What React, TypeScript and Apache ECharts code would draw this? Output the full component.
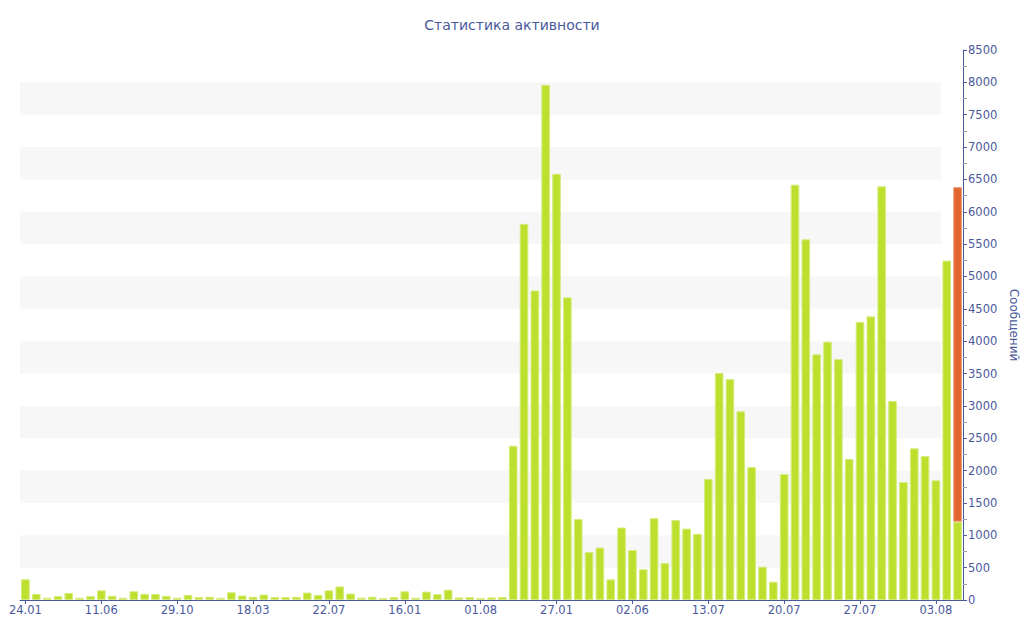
import React, { useEffect, useRef } from "react";
import * as echarts from "echarts";

const categories = [
  "24.01", "12.02", "03.03", "23.03", "12.04", "02.05", "22.05",
  "11.06", "30.06", "11.07", "06.08", "30.08", "19.09", "09.10",
  "29.10", "18.11", "08.12", "28.12", "17.01", "06.02", "26.02",
  "18.03", "05.04", "23.04", "11.05", "29.05", "16.06", "04.07",
  "22.07", "16.08", "10.09", "05.10", "30.10", "24.11", "19.12",
  "16.01", "13.02", "13.03", "10.04", "08.05", "05.06", "03.07",
  "01.08", "26.08", "21.09", "16.10", "11.11", "07.12", "01.01",
  "27.01", "14.02", "04.03", "22.03", "09.04", "27.04", "15.05",
  "02.06", "08.06", "14.06", "20.06", "26.06", "02.07", "07.07",
  "13.07", "14.07", "15.07", "16.07", "17.07", "18.07", "19.07",
  "20.07", "21.07", "22.07", "23.07", "24.07", "25.07", "26.07",
  "27.07", "28.07", "29.07", "30.07", "31.07", "01.08", "02.08",
  "03.08", "04.08", "05.08",
];

const messages = [
  320, 95, 35, 60, 110, 35, 60,
  150, 65, 35, 135, 95, 95, 65,
  35, 80, 45, 50, 35, 120, 70,
  50, 85, 45, 45, 50, 115, 80,
  150, 210, 100, 35, 50, 30, 45,
  135, 35, 130, 90, 160, 40, 45,
  30, 40, 45, 2384, 5813, 4784, 7963,
  6587, 4677, 1253, 741, 811, 320, 1120,
  773, 475, 1264, 571, 1237, 1104, 1024,
  1872, 3509, 3413, 2917, 2056, 515, 283,
  1947, 6419, 5574, 3797, 3993, 3725, 2179,
  4297, 4384, 6394, 3076, 1824, 2344, 2226,
  1850, 5245, 1210,
];

const lastDayExtra = 5170;

const bandRanges = [
  [500, 1000],
  [1500, 2000],
  [2500, 3000],
  [3500, 4000],
  [4500, 5000],
  [5500, 6000],
  [6500, 7000],
  [7500, 8000],
];

const titleText = "Статистика активности";
const yAxisName = "Сообщений";

const textColor = "#4a599c";
const font = "DejaVu Sans, Verdana, sans-serif";

export default function App() {
  const ref = useRef<HTMLDivElement>(null);

  useEffect(() => {
    if (!ref.current) return;
    const chart = echarts.init(ref.current, null, { renderer: "svg" });
    const extra = categories.map((_, i) =>
      i === categories.length - 1 ? lastDayExtra : "-"
    );
    chart.setOption({
      animation: false,
      backgroundColor: "#ffffff",
      textStyle: { fontFamily: font },
      title: {
        text: titleText,
        left: "center",
        top: 13,
        textStyle: {
          color: textColor,
          fontSize: 14,
          fontWeight: "normal",
          fontFamily: font,
        },
      },
      grid: {
        left: 20,
        right: 61,
        top: 50,
        bottom: 40,
        containLabel: false,
        outerBoundsMode: "none",
      },
      xAxis: [
        {
          type: "category",
          data: categories,
          boundaryGap: true,
          axisLine: { show: true, onZero: false, lineStyle: { color: textColor, width: 1 } },
          axisTick: {
            show: true,
            interval: 6,
            alignWithLabel: true,
            length: 4,
            lineStyle: { color: textColor },
          },
          axisLabel: {
            interval: 6,
            color: textColor,
            fontSize: 11.5,
            fontFamily: font,
            margin: 4,
          },
          splitLine: { show: false },
        },
        {
          type: "value",
          min: 0,
          max: categories.length,
          show: false,
          axisLine: { onZero: false },
          splitLine: { show: false },
        },
      ],
      yAxis: {
        type: "value",
        position: "right",
        min: 0,
        max: 8500,
        interval: 500,
        name: yAxisName,
        nameLocation: "middle",
        nameRotate: -90,
        nameGap: 44,
        nameTextStyle: { color: textColor, fontSize: 12, fontFamily: font },
        axisLine: { show: true, onZero: false, lineStyle: { color: textColor, width: 1 } },
        axisTick: { show: true, length: 4, lineStyle: { color: textColor } },
        minorTick: {
          show: true,
          splitNumber: 2,
          length: 4,
          lineStyle: { color: "#a0a0a0" },
        },
        axisLabel: {
          color: textColor,
          fontSize: 11.5,
          fontFamily: font,
          margin: 5,
          formatter: (v: number) => String(v),
        },
        splitLine: { show: false },
        splitArea: { show: false },
      },
      series: [
        {
          type: "line",
          xAxisIndex: 1,
          yAxisIndex: 0,
          data: [],
          z: 0,
          silent: true,
          markArea: {
            silent: true,
            itemStyle: { color: "#f7f7f7" },
            data: bandRanges.map(([a, b]) => [
              { xAxis: 0, yAxis: a },
              { xAxis: categories.length - 2, yAxis: b },
            ]),
          },
        },
        {
          type: "bar",
          stack: "total",
          data: messages,
          barCategoryGap: "20%",
          z: 2,
          itemStyle: {
            color: "#bde02f",
            borderColor: "#d6ec80",
            borderWidth: 1,
          },
        },
        {
          type: "bar",
          stack: "total",
          data: extra,
          barCategoryGap: "20%",
          z: 2,
          itemStyle: {
            color: "#e2652e",
            borderColor: "#ec9a74",
            borderWidth: 1,
          },
        },
      ],
    });
    return () => chart.dispose();
  }, []);

  return (
    <div
      ref={ref}
      style={{ position: "fixed", left: 0, top: 0, width: 1024, height: 640 }}
    />
  );
}
